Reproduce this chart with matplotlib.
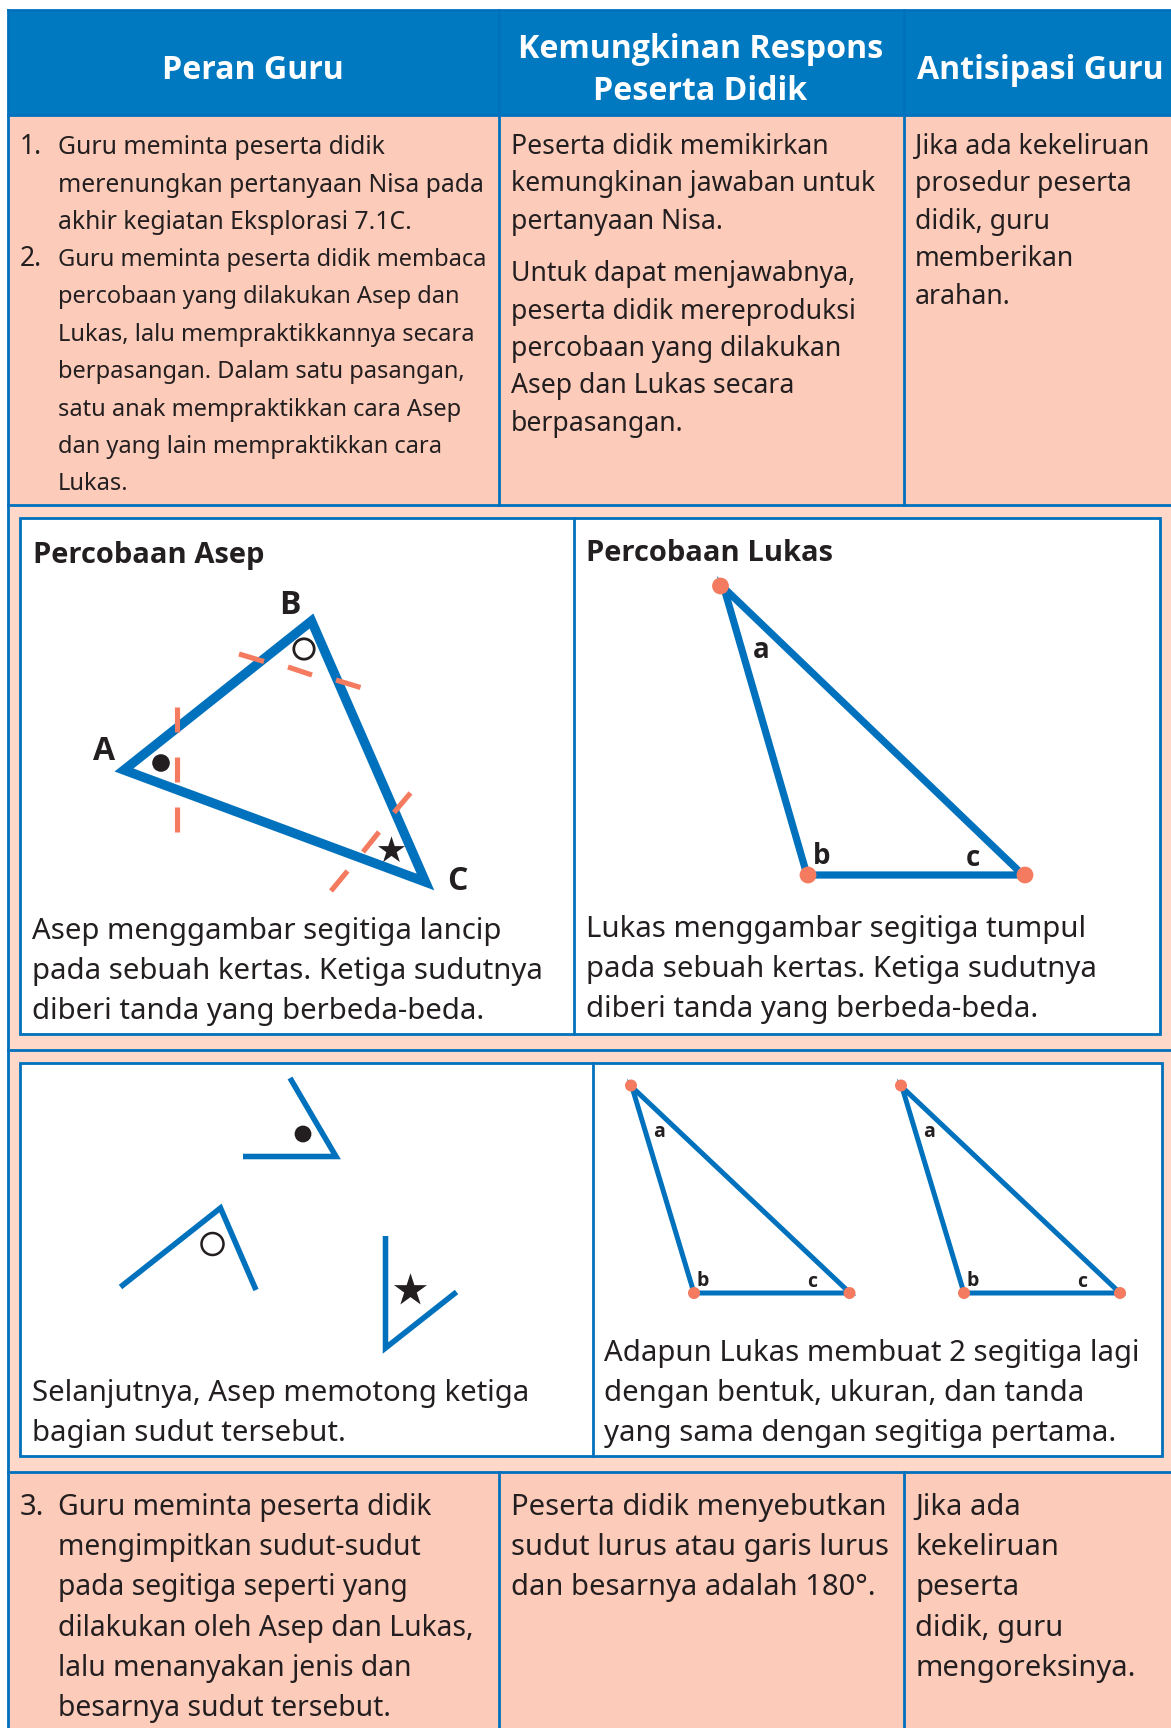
import matplotlib
matplotlib.use('Agg')
import matplotlib.pyplot as plt
from matplotlib.patches import Rectangle, Polygon, Circle

plt.rcParams['font.family'] = ['Noto Sans', 'DejaVu Sans']
BOLD_FONT = ['Open Sans', 'DejaVu Sans']

BLUE = '#0071BC'
HEAD = '#0079C1'
CELL = '#FDCBB9'
CELL2 = '#FFD8CA'
INK = '#231F20'
SALMON = '#F47B5F'

headers = ['Peran Guru', 'Kemungkinan Respons\nPeserta Didik', 'Antisipasi Guru']

col1_a = ['Guru meminta peserta didik', 'merenungkan pertanyaan Nisa pada', 'akhir kegiatan Eksplorasi 7.1C.']
col1_b = ['Guru meminta peserta didik membaca', 'percobaan yang dilakukan Asep dan',
          'Lukas, lalu mempraktikkannya secara', 'berpasangan. Dalam satu pasangan,',
          'satu anak mempraktikkan cara Asep', 'dan yang lain mempraktikkan cara', 'Lukas.']
col2_a = ['Peserta didik memikirkan', 'kemungkinan jawaban untuk', 'pertanyaan Nisa.']
col2_b = ['Untuk dapat menjawabnya,', 'peserta didik mereproduksi', 'percobaan yang dilakukan',
          'Asep dan Lukas secara', 'berpasangan.']
col3_a = ['Jika ada kekeliruan', 'prosedur peserta', 'didik, guru', 'memberikan', 'arahan.']

asep_text = ['Asep menggambar segitiga lancip', 'pada sebuah kertas. Ketiga sudutnya', 'diberi tanda yang berbeda-beda.']
lukas_text = ['Lukas menggambar segitiga tumpul', 'pada sebuah kertas. Ketiga sudutnya', 'diberi tanda yang berbeda-beda.']
asep_cut = ['Selanjutnya, Asep memotong ketiga', 'bagian sudut tersebut.']
lukas_more = ['Adapun Lukas membuat 2 segitiga lagi', 'dengan bentuk, ukuran, dan tanda', 'yang sama dengan segitiga pertama.']

col1_c = ['Guru meminta peserta didik', 'mengimpitkan sudut-sudut', 'pada segitiga seperti yang',
          'dilakukan oleh Asep dan Lukas,', 'lalu menanyakan jenis dan', 'besarnya sudut tersebut.']
col2_c = ['Peserta didik menyebutkan', 'sudut lurus atau garis lurus', 'dan besarnya adalah 180\u00b0.']
col3_c = ['Jika ada', 'kekeliruan', 'peserta', 'didik, guru', 'mengoreksinya.']

# triangle corners, in pixels
asep_tri = [(124, 770), (311.5, 621), (425.5, 882)]
lukas_tri = [(724, 588), (807, 875), (1023, 875)]
lukas_dots = [(720.5, 586), (808, 875), (1025, 875)]
small_tri_1 = [(632, 1087), (694, 1293), (850, 1293)]
small_tri_2 = [(902, 1087), (964, 1293), (1120, 1293)]
small_dots_1 = [(631, 1085.5), (694, 1293), (849.5, 1293)]
small_dots_2 = [(901, 1085.5), (964, 1293), (1120, 1293)]

cut_a = [(290, 1078), (336, 1156.5), (243, 1156.5)]
cut_b = [(120.5, 1287), (220.5, 1208), (256, 1290)]
cut_c = [(385.5, 1236), (385.5, 1348), (456.5, 1292)]

dash_1 = [((177, 707), (177, 732)), ((177, 757), (177, 782)), ((177, 807), (177, 832))]
dash_2 = [((239, 654), (264, 661.5)), ((288, 667), (312, 675)), ((336, 680), (360.5, 687.5))]
dash_3 = [((410.5, 793), (394, 812.5)), ((379, 832), (363, 852)), ((347.5, 871), (331, 891))]

fig = plt.figure(figsize=(11.71, 17.28), dpi=100)
ax = fig.add_axes([0, 0, 1, 1])
ax.set_xlim(0, 1171)
ax.set_ylim(1728, 0)
ax.axis('off')


def rect(x0, y0, x1, y1, fc, ec='none', lw=0, z=1):
    ax.add_patch(Rectangle((x0, y0), x1 - x0, y1 - y0, fc=fc, ec=ec, lw=lw, zorder=z))


def block(lines, x, y0, step, size=19.15, **kw):
    for i, s in enumerate(lines):
        ax.text(x, y0 + i * step, s, fontsize=size, color=INK, va='baseline', ha='left', zorder=6, **kw)


def label(x, y, s, size):
    ax.text(x, y, s, fontsize=size, fontweight='bold', family=BOLD_FONT, color=INK,
            ha='center', va='center', zorder=6)


# backgrounds
rect(8, 10, 1171, 115, HEAD)
rect(8, 115, 1171, 505, CELL)
rect(8, 505, 1171, 1050, CELL2)
rect(8, 1050, 1171, 1472, CELL2)
rect(8, 1472, 1171, 1728, CELL)

# table lines
LW = 2.0
for y in [115, 505, 1050, 1472]:
    ax.plot([8, 1171], [y, y], color=BLUE, lw=LW, zorder=3)
ax.plot([8, 8], [10, 1728], color=BLUE, lw=LW, zorder=3)
ax.plot([8, 1171], [10, 10], color=BLUE, lw=LW, zorder=3)
for x in [498.5, 903.5]:
    ax.plot([x, x], [10, 505], color=BLUE, lw=LW, zorder=3)
    ax.plot([x, x], [1472, 1728], color=BLUE, lw=LW, zorder=3)

# white panels
rect(20, 518, 1160, 1034, 'white', BLUE, LW, 2)
ax.plot([574, 574], [518, 1034], color=BLUE, lw=LW, zorder=3)
rect(20, 1063, 1162, 1456, 'white', BLUE, LW, 2)
ax.plot([593, 593], [1063, 1456], color=BLUE, lw=LW, zorder=3)

# header text
for s, x in zip(headers, [253, 700.5, 1040]):
    ax.text(x, 70.5, s, fontsize=23.1, fontweight='bold', family=BOLD_FONT, color='white',
            ha='center', va='center', linespacing=1.36, zorder=6)

# row 1
ax.text(20, 154, '1.', fontsize=19, color=INK, zorder=6)
ax.text(20, 266, '2.', fontsize=19, color=INK, zorder=6)
block(col1_a, 58, 154, 37.5, size=17.8)
block(col1_b, 58, 266, 37.4, size=17.0)
block(col2_a, 511, 154, 37.5)
block(col2_b, 511, 281, 37.5)
block(col3_a, 915, 154, 37.5)

# panel titles and captions
ax.text(33, 563.5, 'Percobaan Asep', fontsize=21, fontweight='bold', family=BOLD_FONT, color=INK, zorder=6)
ax.text(586.5, 561, 'Percobaan Lukas', fontsize=21, fontweight='bold', family=BOLD_FONT, color=INK, zorder=6)
block(asep_text, 32.5, 938.5, 40, size=21.1)
block(lukas_text, 586.5, 936.5, 40, size=21.1)
block(asep_cut, 32.5, 1400.5, 40, size=21.1)
block(lukas_more, 604.5, 1361, 40, size=21.1)

# Asep triangle
ax.add_patch(Polygon(asep_tri, closed=True, fill=False, ec=BLUE, lw=6.8, joinstyle='miter', zorder=4))
for seg in dash_1 + dash_2 + dash_3:
    ax.plot(*zip(*seg), color=SALMON, lw=3.7, solid_capstyle='butt', zorder=5)
ax.add_patch(Circle((161, 763), 8.8, fc=INK, ec='none', zorder=6))
ax.add_patch(Circle((304, 649), 10.2, fc='none', ec=INK, lw=2, zorder=6))
ax.scatter([391], [850], marker='*', s=420, color=INK, lw=0, zorder=6)
label(104, 751, 'A', 23)
label(290, 606, 'B', 23)
label(457, 882, 'C', 23)

# Lukas triangle
ax.add_patch(Polygon(lukas_tri, closed=True, fill=False, ec=BLUE, lw=5.2, joinstyle='miter', zorder=4))
for p in lukas_dots:
    ax.add_patch(Circle(p, 8.4, fc=SALMON, ec='none', zorder=5))
label(761, 651, 'a', 20)
label(822, 857, 'b', 20)
label(973, 858, 'c', 20)

# cut corners
for pts in [cut_a, cut_b, cut_c]:
    ax.plot(*zip(*pts), color=BLUE, lw=4, solid_joinstyle='miter', solid_capstyle='butt', zorder=4)
ax.add_patch(Circle((303, 1134), 8.4, fc=INK, ec='none', zorder=6))
ax.add_patch(Circle((212.5, 1244), 11, fc='none', ec=INK, lw=1.8, zorder=6))
ax.scatter([410], [1290], marker='*', s=620, color=INK, lw=0, zorder=6)

# Lukas copies
for tri, dots, off in [(small_tri_1, small_dots_1, 0), (small_tri_2, small_dots_2, 270)]:
    ax.add_patch(Polygon(tri, closed=True, fill=False, ec=BLUE, lw=3.6, joinstyle='miter', zorder=4))
    for p in dots:
        ax.add_patch(Circle(p, 6, fc=SALMON, ec='none', zorder=5))
    label(659 + off, 1132, 'a', 14)
    label(703 + off, 1281, 'b', 14)
    label(812 + off, 1282, 'c', 14)

# row 3
ax.text(20, 1515, '3.', fontsize=21, color=INK, zorder=6)
block(col1_c, 58, 1515, 40.2, size=20.4)
block(col2_c, 511, 1515, 40.2, size=21)
block(col3_c, 915, 1515, 40.2, size=21)

fig.savefig('out.png', dpi=100)
